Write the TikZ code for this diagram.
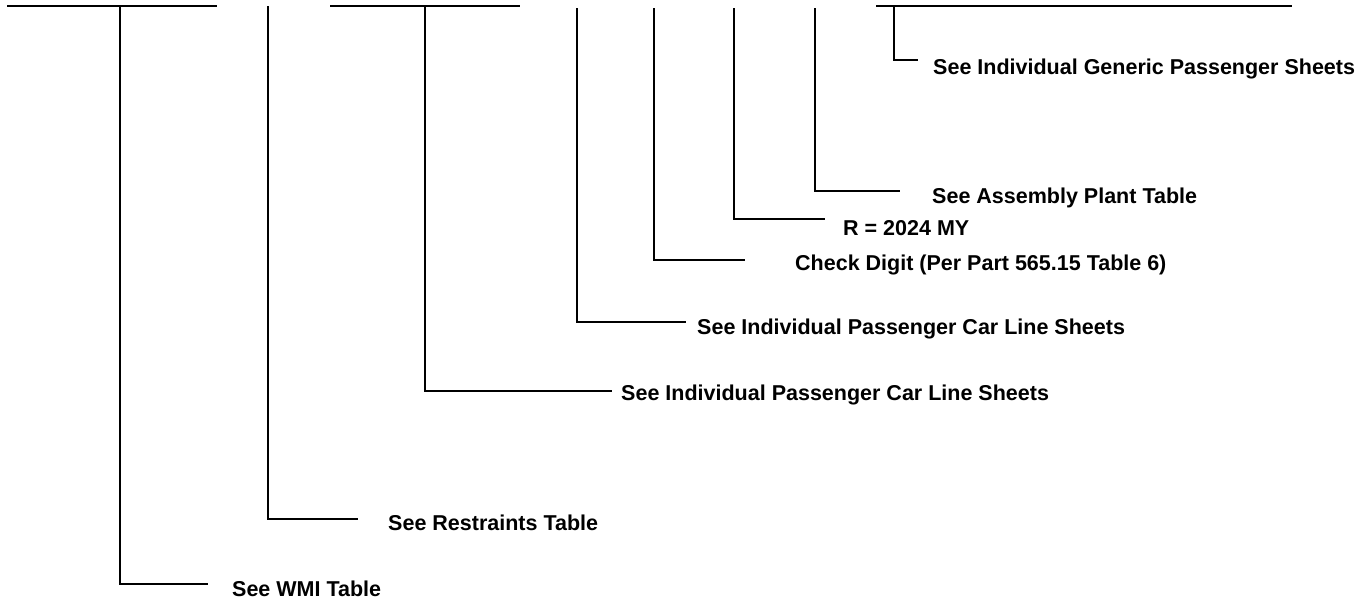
\documentclass[tikz,border=0pt]{standalone}
\usepackage{fontspec}
\setmainfont{Liberation Sans}
\begin{document}
\begin{tikzpicture}[x=1pt,y=-1pt,
  ln/.style={line width=1.5pt,line cap=butt,line join=miter},
  lbl/.style={anchor=base west,inner sep=0pt,font=\fontsize{21.5}{25}\selectfont\bfseries}]
\useasboundingbox (0,0) rectangle (1372,603);
% top bars
\coordinate (a1) at (7,6);   \coordinate (a2) at (217,6);
\coordinate (b1) at (330,6); \coordinate (b2) at (520,6);
\coordinate (c1) at (876,6); \coordinate (c2) at (1292,6);
\draw[ln] (a1) -- (a2);
\draw[ln] (b1) -- (b2);
\draw[ln] (c1) -- (c2);
% branch tops
\coordinate (t1) at (120,6);
\coordinate (t2) at (268,6);
\coordinate (t3) at (425,6);
\coordinate (t4) at (577,8);
\coordinate (t5) at (654,8);
\coordinate (t6) at (734,8);
\coordinate (t7) at (815,8);
\coordinate (t8) at (894,6);
% stub ends
\coordinate (e1) at (208,584);
\coordinate (e2) at (358,519);
\coordinate (e3) at (612,391);
\coordinate (e4) at (686,322);
\coordinate (e5) at (745,260);
\coordinate (e6) at (825,219);
\coordinate (e7) at (900,191);
\coordinate (e8) at (918,60);
\foreach \i in {1,...,8}{\draw[ln] (t\i) |- (e\i);}
% labels
\node[lbl] (l1) at (232,596) {See WMI Table};
\node[lbl] (l2) at (388,530) {See Restraints Table};
\node[lbl] (l3) at (621,400) {See Individual Passenger Car Line Sheets};
\node[lbl] (l4) at (697,334) {See Individual Passenger Car Line Sheets};
\node[lbl] (l5) at (795,270) {Check Digit (Per Part 565.15 Table 6)};
\node[lbl] (l6) at (843,235) {R = 2024 MY};
\node[lbl] (l7) at (932,203) {See Assembly Plant Table};
\node[lbl] (l8) at (933,74) {See Individual Generic Passenger Sheets};
\end{tikzpicture}
\end{document}
